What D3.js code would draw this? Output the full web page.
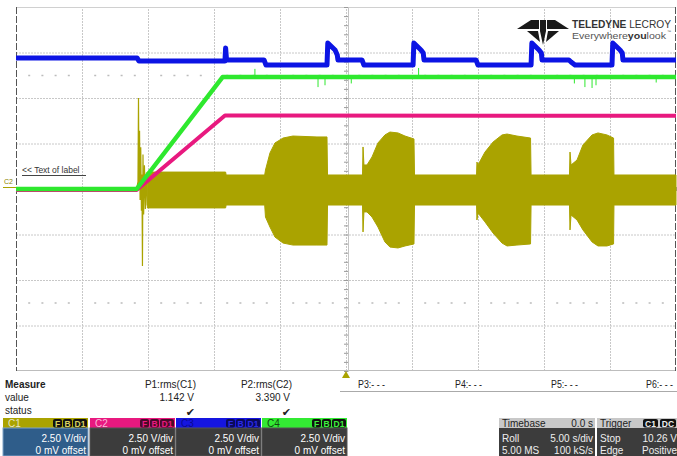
<!DOCTYPE html>
<html><head><meta charset="utf-8">
<script src="https://cdn.jsdelivr.net/npm/d3@7/dist/d3.min.js"></script>
<style>
html,body{margin:0;padding:0;background:#fff;}
svg{display:block;font-family:"Liberation Sans",Arial,sans-serif;}
</style></head><body>
<svg id="scope" width="677" height="456"></svg>
<script>
// ---- graticule divisions (5 s/div horizontally, 2.5 V/div vertically) ----
const divTimes = [-25, -20, -15, -10, -5, 0, 5, 10, 15, 20, 25];
const divVolts = [-10, -7.5, -5, -2.5, 0, 2.5, 5, 7.5, 10];

// ---- C1 (olive): envelope of the switching waveform ----
const c1EnvTime = [-15.05, -9.12, -9.08, -6.16, -6.10, -5.76, -5.38, -4.77, -4.02, -2.20, -1.44, -1.40,
  1.25, 1.29, 1.36, 1.59, 1.97, 2.42, 2.95, 3.33, 3.94, 4.47, 5.15, 5.19,
  9.89, 9.92, 10.00, 10.53, 11.14, 11.82, 12.20, 12.95, 13.98, 14.02,
  16.93, 16.97, 17.05, 17.50, 17.95, 18.64, 19.09, 19.77, 20.27, 20.30, 25];
const c1EnvHigh = [0.93, 0.93, 0.77, 0.77, 1.04, 1.98, 2.53, 2.80, 2.91, 2.86, 2.86, 0.77,
  0.77, 2.31, 1.32, 1.32, 1.76, 2.53, 2.97, 3.13, 3.08, 2.91, 2.75, 0.77,
  0.77, 1.48, 1.32, 2.03, 2.58, 2.97, 3.02, 2.91, 2.80, 0.77,
  0.77, 2.03, 1.32, 1.59, 2.42, 2.97, 3.08, 2.97, 2.80, 0.77, 0.77];
const c1EnvLow = [-1.04, -1.04, -0.88, -0.88, -1.54, -2.09, -2.64, -2.97, -3.08, -3.08, -3.08, -0.88,
  -0.88, -2.36, -1.26, -1.26, -1.54, -2.09, -2.91, -3.19, -3.24, -3.13, -3.02, -0.88,
  -0.88, -1.70, -1.32, -1.81, -2.42, -2.97, -3.13, -3.08, -3.02, -0.88,
  -0.88, -2.25, -1.43, -1.70, -2.25, -2.91, -3.13, -3.13, -3.02, -0.88, -0.88];
// C1 start-up ringing
const c1SpikeTime = [-15.86, -15.76, -15.72, -15.68, -15.64, -15.60, -15.55, -15.50, -15.46, -15.42, -15.38, -15.33, -15.27, -15.20, -15.12, -15.06];
const c1SpikeVolt = [0, 0.4, 5.0, 0.2, 3.2, -0.6, 2.3, -1.2, 0.8, -4.23, 1.9, -1.4, 1.3, -1.1, 0.9, -0.9];

// ---- C2 (magenta) ----
const c2Time = [-25, -15.86, -9.17, 25];
const c2Volt = [-0.05, -0.05, 4.04, 4.02];

// ---- C3 (blue) ----
const c3Time = [-25, -15.83, -15.68, -9.17, -9.12, -9.05, -6.21, -6.06, -1.44, -1.38, -0.83, -0.66, -0.61,
  1.21, 1.36, 5.08, 5.14, 5.68, 5.85, 5.91, 9.85, 10.0, 14.02, 14.08, 14.62, 14.80, 14.85,
  16.89, 17.05, 17.35, 20.15, 20.21, 20.76, 20.93, 20.98, 25];
const c3Volt = [7.20, 7.20, 7.03, 7.03, 7.75, 7.09, 7.09, 6.81, 6.81, 8.02, 7.64, 7.36, 7.09,
  7.09, 6.81, 6.81, 8.02, 7.64, 7.47, 7.09, 7.09, 6.81, 6.81, 8.02, 7.64, 7.47, 7.09,
  7.09, 6.98, 6.81, 6.81, 8.02, 7.64, 7.47, 7.09, 7.09];

// ---- C4 (green) ----
const c4Time = [-25, -15.86, -9.35, 25];
const c4Volt = [0, 0, 6.15, 6.15];
const c4GlitchTime = [-6.9, -2.12, -1.59, 0.4, 5.5, 17.3, 18.1, 18.64, 18.94, 23.5];
const c4GlitchVolt = [6.6, 5.6, 5.7, 5.8, 6.65, 5.8, 5.6, 5.55, 5.7, 5.85];

// ---- measurement table ----
const measureNames = ["P1:rms(C1)", "P2:rms(C2)", "P3:- - -", "P4:- - -", "P5:- - -", "P6:- - -"];
const measureValues = ["1.142 V", "3.390 V"];

// ---- channel descriptors ----
const channelNames = ["C1", "C2", "C3", "C4"];
const channelScales = ["2.50 V/div", "2.50 V/div", "2.50 V/div", "2.50 V/div"];
const channelOffsets = ["0 mV offset", "0 mV offset", "0 mV offset", "0 mV offset"];

const timebaseRows = [["Timebase", "0.0 s"], ["Roll", "5.00 s/div"], ["5.00 MS", "100 kS/s"]];
const triggerRows = [["Trigger", ""], ["Stop", "10.26 V"], ["Edge", "Positive"]];

// ---------------------------------------------------------------
const COL = { c1: "#aaa300", c2: "#e8197f", c3: "#0c14e4", c4: "#2ee82e" };
const svg = d3.select("#scope");
const x = d3.scaleLinear().domain([-25, 25]).range([16, 676]);
const y = d3.scaleLinear().domain([-10, 10]).range([371, 7]);

// graticule
const grid = svg.append("g");
grid.append("g").attr("transform", "translate(0,371)")
  .call(d3.axisBottom(x).tickValues(divTimes.slice(1, -1)).tickSize(-364).tickFormat(""))
  .call(g => g.select(".domain").remove())
  .call(g => g.selectAll("line").attr("stroke", "#c8c8c8").attr("stroke-dasharray", "2,1"));
grid.append("g").attr("transform", "translate(16,0)")
  .call(d3.axisLeft(y).tickValues(divVolts.slice(1, -1)).tickSize(-660).tickFormat(""))
  .call(g => g.select(".domain").remove())
  .call(g => g.selectAll("line").attr("stroke", "#c8c8c8").attr("stroke-dasharray", "2,1"));
// frame
grid.append("line").attr("x1", 16).attr("x2", 676).attr("y1", 7.5).attr("y2", 7.5).attr("stroke", "#d0d0d0");
grid.append("line").attr("x1", 16).attr("x2", 676).attr("y1", 370.5).attr("y2", 370.5).attr("stroke", "#bdbdbd");
[x(-25) + 0.5, x(25) - 0.5].forEach(px => grid.append("line")
  .attr("x1", px).attr("x2", px).attr("y1", 7).attr("y2", 371)
  .attr("stroke", "#555").attr("stroke-dasharray", "7,2"));
// center-axis minor ticks
grid.append("g").attr("transform", `translate(${x(0) + 2},0)`)
  .call(d3.axisLeft(y).tickValues(d3.range(-10, 10.01, 0.5)).tickSize(4).tickFormat(""))
  .call(g => g.select(".domain").attr("stroke", "#c4c4c4"))
  .call(g => g.selectAll("line").attr("stroke", "#9a9a9a"));
grid.append("g").attr("transform", `translate(0,${y(0) - 2})`)
  .call(d3.axisBottom(x).tickValues(d3.range(-25, 25.01, 1)).tickSize(4).tickFormat(""))
  .call(g => g.select(".domain").remove())
  .call(g => g.selectAll("line").attr("stroke", "#9a9a9a"));
// dotted marker rows at +/- 2.5 div
const minorT = d3.range(-25, 25, 1).filter(t => t % 5 !== 0);
[6.25, -6.25].forEach(v => grid.selectAll(null).data(minorT).join("rect")
  .attr("x", t => x(t) - 1).attr("y", y(v) - 0.5).attr("width", 2).attr("height", 1.5)
  .attr("fill", "#bcbcbc"));

// ---- traces ----
const traces = svg.append("g");
const env = c1EnvTime.map((t, i) => ({ t, hi: c1EnvHigh[i], lo: c1EnvLow[i] }));
traces.append("path").datum(env)
  .attr("d", d3.area().x(d => x(d.t)).y0(d => y(d.lo)).y1(d => y(d.hi)))
  .attr("fill", COL.c1).attr("stroke", COL.c1).attr("stroke-width", 1);
traces.append("path").datum(c1SpikeTime.map((t, i) => [t, c1SpikeVolt[i]]))
  .attr("d", d3.line().x(d => x(d[0])).y(d => y(d[1])))
  .attr("fill", "none").attr("stroke", COL.c1).attr("stroke-width", 1.2);

const line = d3.line().x(d => x(d[0])).y(d => y(d[1]));
traces.append("path").datum(c2Time.map((t, i) => [t, c2Volt[i]]))
  .attr("d", line).attr("fill", "none").attr("stroke", COL.c2).attr("stroke-width", 4)
  .attr("stroke-linejoin", "round");
traces.append("path").datum(c3Time.map((t, i) => [t, c3Volt[i]]))
  .attr("d", line).attr("fill", "none").attr("stroke", COL.c3).attr("stroke-width", 5)
  .attr("stroke-linejoin", "round");
traces.append("path").datum(c4Time.map((t, i) => [t, c4Volt[i]]))
  .attr("d", line).attr("fill", "none").attr("stroke", COL.c4).attr("stroke-width", 4.5)
  .attr("stroke-linejoin", "round");
traces.selectAll(null).data(c4GlitchTime.map((t, i) => [t, c4GlitchVolt[i]])).join("line")
  .attr("x1", d => x(d[0])).attr("x2", d => x(d[0]))
  .attr("y1", y(6.15)).attr("y2", d => y(d[1]))
  .attr("stroke", COL.c4).attr("stroke-width", 1);

// ground marker and label
svg.append("text").attr("x", 4).attr("y", 184).attr("font-size", 7).attr("fill", "#8a8500").text("C2");
svg.append("line").attr("x1", 3).attr("x2", 16).attr("y1", 187.5).attr("y2", 187.5).attr("stroke", COL.c1);
svg.append("text").attr("x", 22).attr("y", 173).attr("font-size", 8.5).attr("fill", "#333").text("<< Text of label");
svg.append("line").attr("x1", 22).attr("x2", 86).attr("y1", 175.5).attr("y2", 175.5).attr("stroke", "#444");

// trigger position marker
svg.append("path").attr("d", `M${x(0) - 4},378 L${x(0) + 4},378 L${x(0)},371 Z`).attr("fill", COL.c1);

// logo
const logo = svg.append("g").attr("fill", "#1a1a1a");
logo.append("path").attr("d", "M517,29 L531,20 L539,20 L539,29 Z");
logo.append("path").attr("d", "M569,29 L555,20 L547,20 L547,29 Z");
logo.append("path").attr("d", "M540,20 L546,20 L546,31 L543,45 L540,31 Z");
logo.append("path").attr("d", "M527,31 L538,31 L540,42 Z");
logo.append("path").attr("d", "M559,31 L548,31 L546,42 Z");
const lt = svg.append("text").attr("x", 572).attr("y", 28).attr("font-size", 11).attr("fill", "#333")
  .attr("textLength", 99).attr("lengthAdjust", "spacingAndGlyphs");
lt.append("tspan").attr("font-weight", "bold").text("TELEDYNE");
lt.append("tspan").text(" LECROY");
const lt2 = svg.append("text").attr("x", 572).attr("y", 39).attr("font-size", 9.5).attr("fill", "#555")
  .attr("textLength", 94).attr("lengthAdjust", "spacingAndGlyphs");
lt2.append("tspan").text("Everywhere");
lt2.append("tspan").attr("font-weight", "bold").attr("fill", "#333").text("you");
lt2.append("tspan").text("look");
svg.append("text").attr("x", 667).attr("y", 33).attr("font-size", 4).attr("fill", "#555").text("™");

// ---- measurement table ----
const mt = svg.append("g").attr("font-size", 10).attr("fill", "#222");
mt.append("text").attr("x", 5).attr("y", 388).attr("font-weight", "bold").text("Measure");
mt.append("text").attr("x", 5).attr("y", 401).text("value");
mt.append("text").attr("x", 5).attr("y", 414).text("status");
const mEnds = [196, 292];
measureNames.slice(0, 2).forEach((n, i) => {
  mt.append("text").attr("x", mEnds[i]).attr("y", 388).attr("text-anchor", "end").text(n);
  mt.append("text").attr("x", mEnds[i] - 2).attr("y", 401).attr("text-anchor", "end").text(measureValues[i]);
  mt.append("text").attr("x", mEnds[i] - 1).attr("y", 415.5).attr("text-anchor", "end")
    .attr("font-family", "DejaVu Sans").attr("font-size", 11).text("✔");
});
const pStarts = [358, 455, 551, 646];
measureNames.slice(2).forEach((n, i) => mt.append("text").attr("x", pStarts[i]).attr("y", 388)
  .attr("textLength", 27).attr("lengthAdjust", "spacingAndGlyphs").text(n));
svg.append("line").attr("x1", 340).attr("x2", 677).attr("y1", 391.5).attr("y2", 391.5).attr("stroke", "#aaa");

// ---- channel boxes ----
const chHead = [COL.c1, COL.c2, "#1515e0", "#33ea33"];
const chBody = ["#2f5d8a", "#3c3c3c", "#3c3c3c", "#3c3c3c"];
const chNameCol = ["#e8e6c8", "#f8b8d8", "#0a0a90", "#104a10"];
const badgeFill = ["#111", "#4a0a2a", "#0a0a5a", "#111"];
const badgeText = ["#d8d060", "#e8197f", "#2a2ae8", "#3ef03e"];
const boxX = [3, 90, 176, 262];
const boxW = 85;
channelNames.forEach((n, i) => {
  const g = svg.append("g").attr("transform", `translate(${boxX[i]},418)`);
  g.append("rect").attr("width", boxW).attr("height", 10).attr("fill", chHead[i]);
  g.append("rect").attr("y", 10).attr("width", boxW).attr("height", 28).attr("fill", chBody[i])
    .attr("stroke", i === 0 ? "#7fa3c8" : "#555").attr("stroke-width", 1);
  g.append("text").attr("x", 5).attr("y", 9).attr("font-size", 10).attr("fill", chNameCol[i]).text(n);
  [["F", 50, 9], ["B", 60, 9], ["D1", 70, 14]].forEach(([s, bx, bw]) => {
    g.append("rect").attr("x", bx).attr("y", 1).attr("width", bw).attr("height", 8.5).attr("rx", 2)
      .attr("fill", badgeFill[i]);
    g.append("text").attr("x", bx + bw / 2).attr("y", 8.8).attr("text-anchor", "middle")
      .attr("font-size", 8.5).attr("font-weight", "bold").attr("fill", badgeText[i]).text(s);
  });
  g.append("text").attr("x", boxW - 2).attr("y", 24).attr("text-anchor", "end").attr("font-size", 10)
    .attr("fill", "#fff").text(channelScales[i]);
  g.append("text").attr("x", boxW - 2).attr("y", 35.5).attr("text-anchor", "end").attr("font-size", 10)
    .attr("fill", "#fff").text(channelOffsets[i]);
});

// ---- timebase / trigger boxes ----
function infoBox(x0, w, rows) {
  const g = svg.append("g").attr("transform", `translate(${x0},418)`);
  g.append("rect").attr("width", w).attr("height", 10).attr("fill", "#c8c8c8");
  g.append("rect").attr("y", 10).attr("width", w).attr("height", 28).attr("fill", "#3c3c3c");
  rows.forEach((r, k) => {
    const yy = [9, 24, 35.5][k];
    const c = k === 0 ? "#222" : "#eee";
    g.append("text").attr("x", 3).attr("y", yy).attr("font-size", 10).attr("fill", c).text(r[0]);
    g.append("text").attr("x", w - 2).attr("y", yy).attr("text-anchor", "end").attr("font-size", 10)
      .attr("fill", c).text(r[1]);
  });
  return g;
}
infoBox(499, 96, timebaseRows);
const tg = infoBox(597, 82, triggerRows);
[["C1", 46, 15], ["DC", 63, 16]].forEach(([s, bx, bw]) => {
  tg.append("rect").attr("x", bx).attr("y", 1).attr("width", bw).attr("height", 8.5).attr("rx", 2).attr("fill", "#111");
  tg.append("text").attr("x", bx + bw / 2).attr("y", 8.8).attr("text-anchor", "middle").attr("font-size", 8.5)
    .attr("font-weight", "bold").attr("fill", "#eee").text(s);
});
</script>
</body></html>
